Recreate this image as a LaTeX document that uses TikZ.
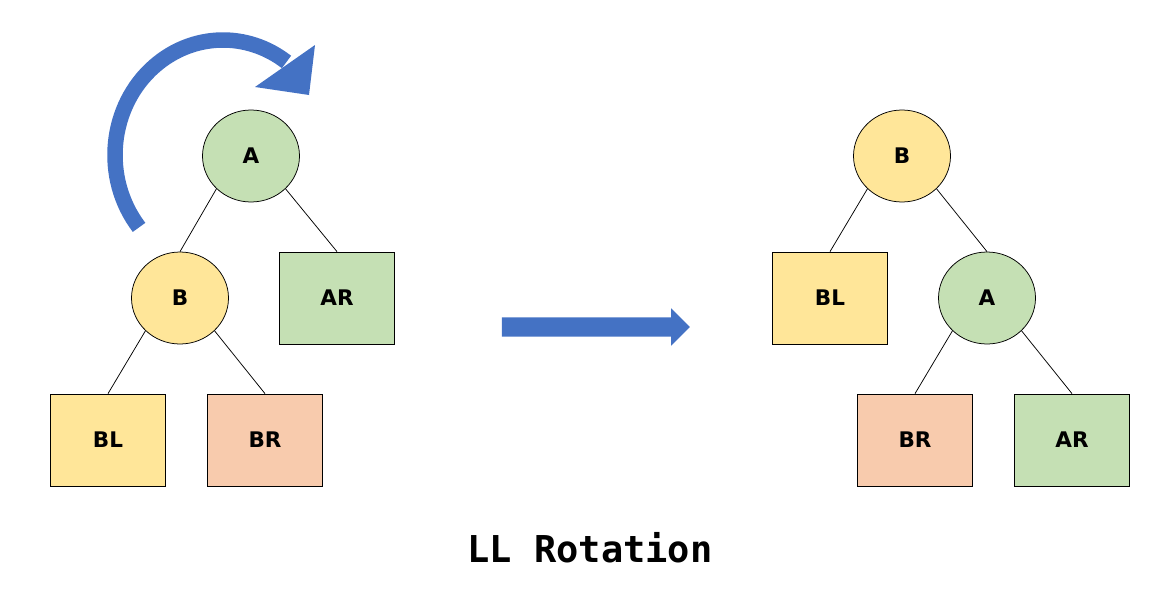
\documentclass[tikz,border=0pt]{standalone}
\usepackage{fontspec}
\setmainfont{DejaVu Sans}
\newfontfamily\titlefont{DejaVu Sans Mono}
\usetikzlibrary{shapes,arrows}
\definecolor{treeGreen}{HTML}{C5E0B4}
\definecolor{treeYellow}{HTML}{FFE699}
\definecolor{treeOrange}{HTML}{F8CBAD}
\definecolor{rotBlue}{HTML}{4472C4}
\tikzstyle{circ} = [ellipse, draw=black, line width=0.75pt, minimum width=97pt, minimum height=92pt, inner sep=0pt, font=\bfseries\fontsize{21.5}{21.5}\selectfont]
\tikzstyle{leaf} = [rectangle, draw=black, line width=0.75pt, minimum width=115pt, minimum height=92pt, inner sep=0pt, font=\bfseries\fontsize{21.5}{21.5}\selectfont]
\tikzstyle{edge} = [line width=0.75pt]
\tikzstyle{bigArrow} = [single arrow, fill=rotBlue, inner xsep=0pt, inner ysep=9.5pt, single arrow head extend=9pt, minimum height=188pt]
\begin{document}
\begin{tikzpicture}[x=1pt, y=-1pt, node distance=142pt]
		\useasboundingbox (0,0) rectangle (1165,611);
		%left tree
		\node[circ, fill=treeGreen] (A) at (251,156) {A};
		\node[circ, fill=treeYellow, below of=A, xshift=-71pt] (B) {B};
		\node[leaf, fill=treeGreen, below of=A, xshift=86pt] (AR) {AR};
		\node[leaf, fill=treeYellow, below of=B, xshift=-72pt] (BL) {BL};
		\node[leaf, fill=treeOrange, below of=B, xshift=85pt] (BR) {BR};
		
		%right tree
		\node[circ, fill=treeYellow] (newB) at (902,156) {B};
		\node[leaf, fill=treeYellow, below of=newB, xshift=-72pt] (newBL) {BL};
		\node[circ, fill=treeGreen, below of=newB, xshift=85pt] (newA) {A};
		\node[leaf, fill=treeOrange, below of=newA, xshift=-72pt] (newBR) {BR};
		\node[leaf, fill=treeGreen, below of=newA, xshift=85pt] (newAR) {AR};
		
		%edges
		\draw[edge] (A.south west) -- (B.north);
		\draw[edge] (A.south east) -- (AR.north);
		\draw[edge] (B.south west) -- (BL.north);
		\draw[edge] (B.south east) -- (BR.north);
		\draw[edge] (newB.south west) -- (newBL.north);
		\draw[edge] (newB.south east) -- (newA.north);
		\draw[edge] (newA.south west) -- (newBR.north);
		\draw[edge] (newA.south east) -- (newAR.north);
		
		%rotation arrows
		\draw[rotBlue, line width=15.5pt] (223,155) ++(141:108 and 115) arc[start angle=141, end angle=306, x radius=108, y radius=115];
		\fill[rotBlue] (255,87) -- (315,45) -- (309,95) -- cycle;
		\node[bigArrow] (step) at (591,327) {};
		
		%title
		\node[font=\titlefont\bfseries\fontsize{37}{37}\selectfont] (title) at (590,548) {LL Rotation};
\end{tikzpicture}
\end{document}
